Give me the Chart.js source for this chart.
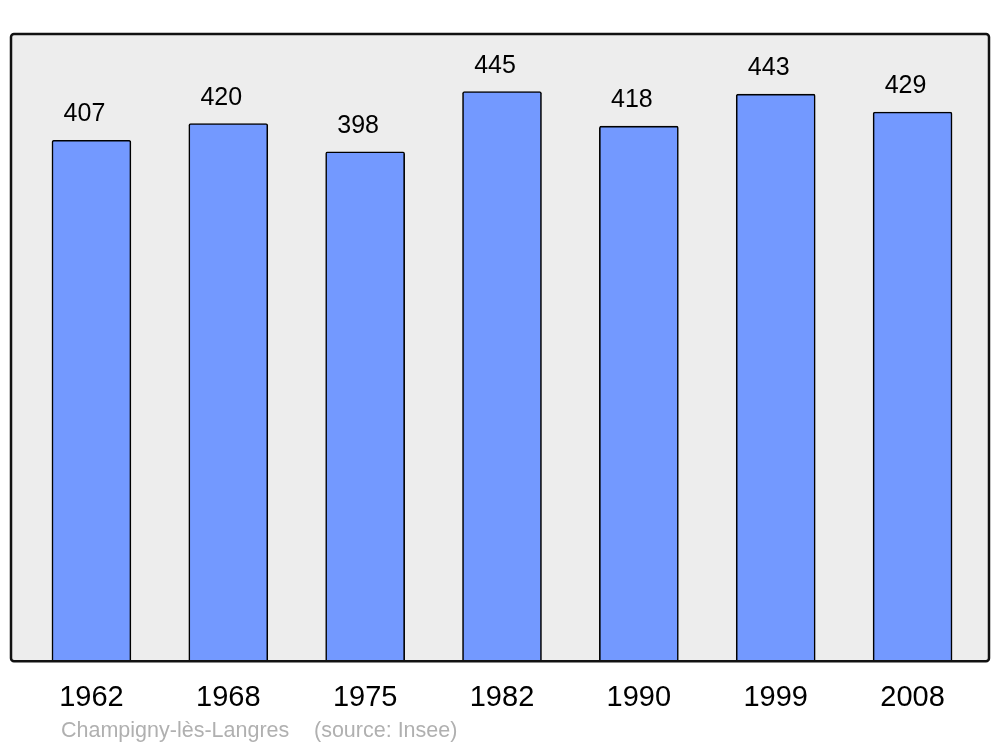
<!DOCTYPE html>
<html>
<head>
<meta charset="utf-8">
<script src="https://cdn.jsdelivr.net/npm/chart.js@4/dist/chart.umd.min.js"></script>
<style>
html,body{margin:0;padding:0;background:#fff;}
#wrap{width:1000px;height:747px;position:relative;}
</style>
</head>
<body>
<div id="wrap"><canvas id="c" width="1000" height="747"></canvas></div>
<script>
const years = ["1962","1968","1975","1982","1990","1999","2008"];
const population = [407,420,398,445,418,443,429];
const yMax = 490;
const communeName = "Champigny-lès-Langres";
const sourceText = "(source: Insee)";

const FONT = "'Liberation Sans', Arial, sans-serif";

const framePlugin = {
  id: 'frame',
  beforeDatasetsDraw(chart) {
    const {ctx, chartArea: a} = chart;
    const l = a.left - 12, r = a.right + 8, t = a.top, b = a.bottom;
    ctx.save();
    ctx.beginPath();
    ctx.roundRect(l, t, r - l, b - t, 3);
    ctx.fillStyle = '#ededed';
    ctx.fill();
    ctx.restore();
  },
  afterDatasetsDraw(chart) {
    const {ctx, chartArea: a} = chart;
    const l = a.left - 12, r = a.right + 8, t = a.top, b = a.bottom;
    ctx.save();
    ctx.beginPath();
    ctx.roundRect(l, t, r - l, b - t, 3);
    ctx.lineWidth = 2.5;
    ctx.strokeStyle = '#111';
    ctx.stroke();
    // value labels
    const meta = chart.getDatasetMeta(0);
    ctx.fillStyle = '#000';
    ctx.font = "25px " + FONT;
    ctx.textAlign = 'center';
    ctx.textBaseline = 'alphabetic';
    meta.data.forEach((bar, i) => {
      ctx.fillText(String(population[i]), bar.x - 7, bar.y - 19);
    });
    // source line
    ctx.fillStyle = '#b0b0b0';
    ctx.font = "21.5px " + FONT;
    ctx.textAlign = 'left';
    ctx.fillText(communeName, 61, 737);
    ctx.fillText(sourceText, 314, 737);
    ctx.restore();
  }
};

new Chart(document.getElementById('c'), {
  type: 'bar',
  data: {
    labels: years,
    datasets: [{
      data: population,
      backgroundColor: '#7399ff',
      borderColor: '#000',
      borderWidth: 1.6,
      borderRadius: {topLeft: 2, topRight: 2, bottomLeft: 0, bottomRight: 0},
      borderSkipped: 'bottom',
      barThickness: 79
    }]
  },
  options: {
    responsive: false,
    animation: false,
    devicePixelRatio: 1,
    layout: {padding: {left: 23, right: 19, top: 34, bottom: 13}},
    plugins: {legend: {display: false}, tooltip: {enabled: false}, title: {display: false}},
    scales: {
      x: {
        grid: {display: false, drawTicks: false},
        border: {display: false},
        ticks: {color: '#000', font: {size: 29, family: FONT}, padding: 19}
      },
      y: {
        display: false,
        min: 0,
        max: yMax
      }
    }
  },
  plugins: [framePlugin]
});
</script>
</body>
</html>
